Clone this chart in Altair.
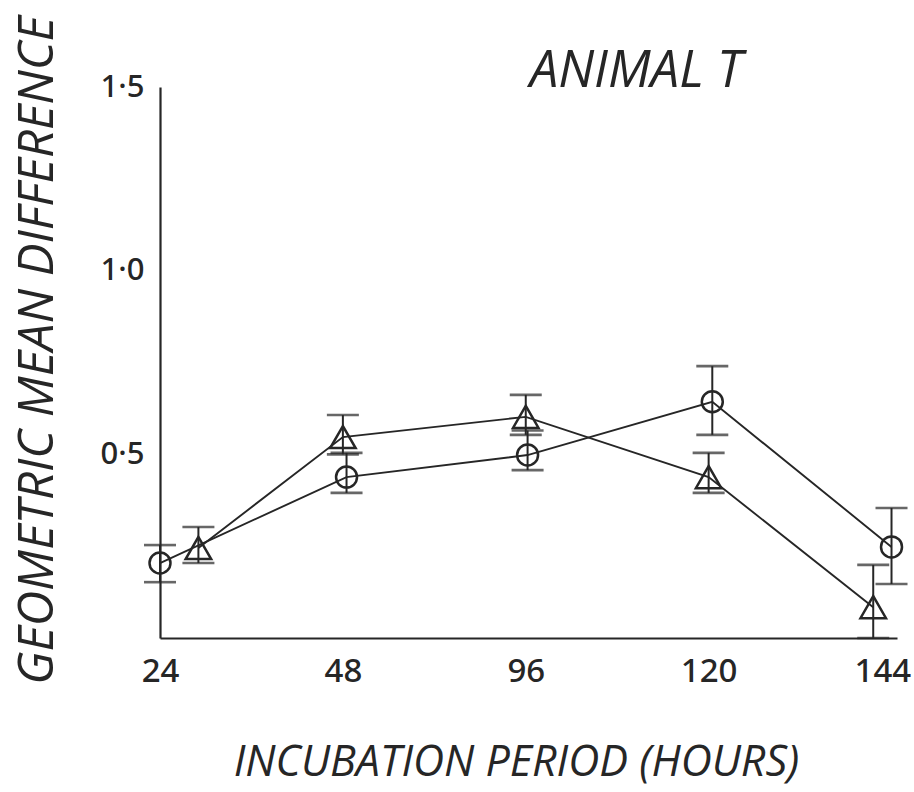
import altair as alt
import pandas as pd

# Incubation periods (hours), drawn at equally spaced slots
periods = ["24", "48", "96", "120", "144"]
label_slots = [0, 1, 2, 3, 3.95]

# Open circles: slot position, geometric mean difference and error-bar limits
circle_pos = [0.0, 1.02, 2.01, 3.02, 4.0]
circle_mean = [0.204, 0.438, 0.498, 0.643, 0.248]
circle_lo = [0.152, 0.395, 0.457, 0.553, 0.147]
circle_hi = [0.253, 0.504, 0.565, 0.740, 0.354]

# Open triangles
tri_pos = [0.21, 1.0, 2.0, 3.0, 3.9]
tri_mean = [0.245, 0.547, 0.602, 0.438, 0.084]
tri_lo = [0.204, 0.500, 0.553, 0.395, 0.0]
tri_hi = [0.302, 0.607, 0.662, 0.504, 0.199]

rows = []
for name, pos, mean, lo, hi in [
    ("circle", circle_pos, circle_mean, circle_lo, circle_hi),
    ("triangle", tri_pos, tri_mean, tri_lo, tri_hi),
]:
    for i in range(len(periods)):
        rows.append({"series": name, "period": periods[i], "pos": pos[i],
                     "mean": mean[i], "lo": lo[i], "hi": hi[i]})
df = pd.DataFrame(rows)

INK = "#262626"
LETTER = "Open Sans, Noto Sans, DejaVu Sans, sans-serif"
DIGIT = "Noto Sans, DejaVu Sans, sans-serif"

label_list = "[" + ",".join("'%s'" % p for p in periods) + "]"

x_enc = alt.X(
    "pos:Q",
    scale=alt.Scale(domain=[0, 4.03], nice=False, zero=False),
    axis=alt.Axis(
        title="INCUBATION PERIOD (HOURS)",
        values=label_slots,
        labelExpr=label_list + "[round(datum.value)]",
        grid=False, ticks=False,
        domainColor=INK, domainWidth=2.2,
        labelFont=DIGIT, labelFontSize=33, labelFontWeight=500,
        labelColor=INK, labelPadding=17,
        labelFlush=False, labelBound=False,
        titleFont=LETTER, titleFontSize=43, titleFontStyle="italic",
        titleFontWeight="normal", titleColor=INK,
        titleX=356, titleY=124, titleAlign="center", titleBaseline="middle",
    ),
)

y_scale = alt.Scale(domain=[0, 1.5], nice=False, zero=False)

base = alt.Chart(df)

lines = base.mark_line(color=INK, strokeWidth=1.9).encode(
    x=x_enc,
    y=alt.Y(
        "mean:Q",
        scale=y_scale,
        axis=alt.Axis(
            title="GEOMETRIC MEAN DIFFERENCE",
            values=[0.5, 1.0, 1.5],
            labelExpr="replace(format(datum.value, '.1f'), '.', '·')",
            grid=False, ticks=False,
            domainColor=INK, domainWidth=2.2,
            labelFont=DIGIT, labelFontSize=31, labelFontWeight=500,
            labelColor=INK, labelPadding=16,
            titleFont=LETTER, titleFontSize=49, titleFontStyle="italic",
            titleFontWeight="normal", titleColor=INK,
            titleAngle=270, titleX=-123, titleY=263,
            titleAlign="center", titleBaseline="middle",
        ),
    ),
    detail="series:N",
    order="pos:Q",
)

stems = base.mark_rule(color=INK, strokeWidth=2).encode(
    x="pos:Q", y=alt.Y("lo:Q", scale=y_scale), y2="hi:Q"
)

caps_lo = base.mark_tick(color=INK, thickness=2.6, size=32, orient="horizontal").encode(
    x="pos:Q", y=alt.Y("lo:Q", scale=y_scale)
)
caps_hi = base.mark_tick(color=INK, thickness=2.6, size=32, orient="horizontal").encode(
    x="pos:Q", y=alt.Y("hi:Q", scale=y_scale)
)

markers = base.mark_point(filled=False, color=INK, strokeWidth=2.5, opacity=1).encode(
    x="pos:Q",
    y=alt.Y("mean:Q", scale=y_scale),
    shape=alt.Shape("series:N",
                    scale=alt.Scale(domain=["circle", "triangle"],
                                    range=["circle", "triangle-up"]),
                    legend=None),
    size=alt.Size("series:N",
                  scale=alt.Scale(domain=["circle", "triangle"], range=[440, 650]),
                  legend=None),
)

# Panel heading in the upper right of the plot
heading = alt.Chart(pd.DataFrame({"t": ["ANIMAL T"]})).mark_text(
    font=LETTER, fontSize=51, fontStyle="italic", fontWeight="normal",
    color=INK, align="center", baseline="alphabetic",
).encode(x=alt.value(476), y=alt.value(0), text="t:N")

chart = alt.layer(lines, stems, caps_lo, caps_hi, markers, heading).properties(
    width=737,
    height=551,
    autosize=alt.AutoSizeParams(type="none"),
    padding={"left": 160, "top": 87, "right": 17, "bottom": 154},
    view=alt.ViewBackground(stroke="transparent", strokeOpacity=0, strokeWidth=0),
).configure_view(strokeWidth=0, stroke="transparent", strokeOpacity=0).configure(
    background="white"
)

chart.save("out.html", embed_options={"renderer": "svg", "actions": False})
